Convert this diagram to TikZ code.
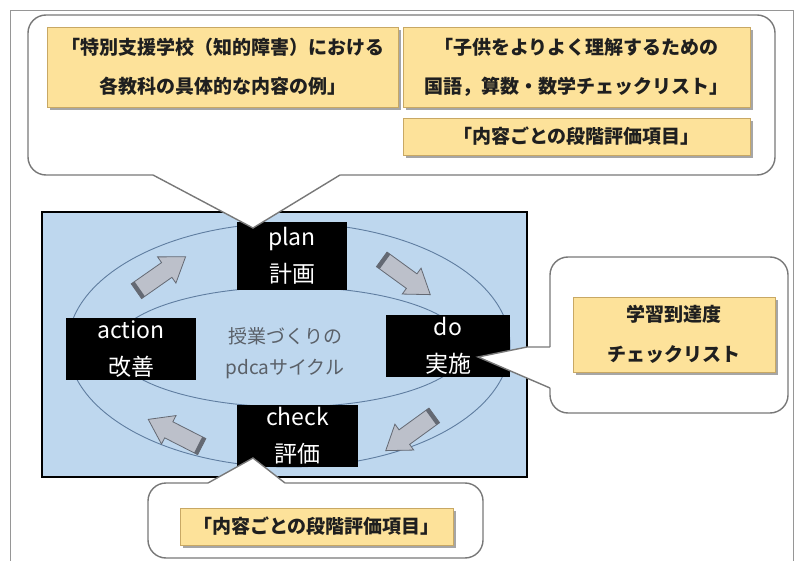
\documentclass[tikz,border=0pt]{standalone}
\usepackage{fontspec}
\newfontfamily\jp{Noto Sans CJK JP}
\usetikzlibrary{shadows}
\definecolor{ycol}{RGB}{253,226,154}
\definecolor{yedge}{RGB}{200,168,100}
\definecolor{bluebg}{RGB}{190,215,238}
\definecolor{ellc}{RGB}{95,125,160}
\definecolor{arrf}{RGB}{188,192,202}
\definecolor{arrd}{RGB}{100,105,115}
\definecolor{calc}{RGB}{120,120,120}
\definecolor{midtxt}{RGB}{90,96,104}
\definecolor{framec}{RGB}{150,150,150}
\tikzset{
 ybox/.style={draw=yedge, line width=0.8pt, fill=ycol,
   drop shadow={shadow xshift=3pt, shadow yshift=-3pt, fill=black, opacity=0.35},
   inner sep=0pt, font=\jp\bfseries\fontsize{19}{39}\selectfont, align=center, text=black!88},
 pdca/.style={fill=black, text=white, inner sep=0pt, font=\jp\fontsize{23}{37}\selectfont, align=center},
 callout/.style={draw=calc, line width=1.4pt, fill=white},
 calloutedge/.style={draw=calc, line width=1.4pt, line join=miter},
 cycarrow/.pic={
   \filldraw[fill=arrf, draw=arrd, line width=0.8pt] (-30,-9) -- (7,-9) -- (7,-16) -- (30,0) -- (7,16) -- (7,9) -- (-30,9) -- cycle;
   \fill[arrd] (-30,-9) rectangle (-26,9);
 },
}
\begin{document}
\begin{tikzpicture}[x=1pt,y=-1pt]
\useasboundingbox (0,0) rectangle (795,561);
\fill[white] (0,0) rectangle (795,561);
% frame
\draw[framec, line width=0.8pt] (10,561) -- (10,10) -- (793,10) -- (793,561);
% blue panel
\node[draw=black, line width=2.4pt, fill=bluebg, minimum width=485pt, minimum height=265pt, inner sep=0pt] (panel) at (284.5,344.5) {};
% ellipses
\draw[ellc, line width=0.9pt] (289,345) ellipse [x radius=221pt, y radius=122pt];
\draw[ellc, line width=0.9pt] (290,347) ellipse [x radius=176pt, y radius=60pt];
% cycle arrows
\pic[rotate=35] at (161,274) {cycarrow};
\pic[rotate=-36] at (406,277) {cycarrow};
\pic[rotate=-144] at (410,433) {cycarrow};
\pic[rotate=153] at (175,433) {cycarrow};
% pdca boxes
\node[pdca, minimum width=110pt, minimum height=68pt] (plan) at (292,256) {plan\\計画};
\node[pdca, minimum width=130pt, minimum height=62pt] (action) at (131,349) {action\\改善};
\node[pdca, minimum width=124pt, minimum height=62pt] (do) at (448,346) {do\\実施};
\node[pdca, minimum width=121pt, minimum height=62pt] (check) at (297.5,436) {check\\評価};
% centre text
\node[font=\jp\fontsize{19}{31}\selectfont, text=midtxt, align=center] (ctr) at (285,353) {授業づくりの\\pdcaサイクル};
% top callout
\coordinate (tA) at (153,175);
\coordinate (tTip) at (253,228);
\coordinate (tB) at (340,175);
\draw[callout, rounded corners=18pt] (28,15) rectangle (775,175);
\fill[white] (153,172) -- (340,172) -- (tB) -- (tTip) -- (tA) -- cycle;
\draw[calloutedge] (tA) -- (tTip) -- (tB);
% right callout
\coordinate (rA) at (550,347);
\coordinate (rM) at (527,347);
\coordinate (rTip) at (478,357);
\coordinate (rB) at (550,388);
\draw[callout, rounded corners=18pt] (550,257) rectangle (788,413);
\fill[white] (553,347) -- (rM) -- (rTip) -- (rB) -- (553,388) -- cycle;
\draw[calloutedge] (rA) -- (rM) -- (rTip) -- (rB);
% bottom callout
\coordinate (bA) at (208,483);
\coordinate (bTip) at (253,458);
\coordinate (bB) at (285,483);
\draw[callout, rounded corners=18pt] (148,483) rectangle (483,558);
\fill[white] (208,486) -- (bA) -- (bTip) -- (bB) -- (285,486) -- cycle;
\draw[calloutedge] (bA) -- (bTip) -- (bB);
% yellow boxes
\node[ybox, minimum width=351pt, minimum height=80pt] (boxA) at (222.5,67) {「特別支援学校（知的障害）における\\各教科の具体的な内容の例」};
\node[ybox, minimum width=347pt, minimum height=80pt] (boxB) at (576.5,67) {「子供をよりよく理解するための\\国語，算数・数学チェックリスト」};
\node[ybox, minimum width=347pt, minimum height=37pt] (boxC) at (576.5,136.5) {「内容ごとの段階評価項目」};
\node[ybox, minimum width=202pt, minimum height=75pt, font=\jp\bfseries\fontsize{19}{40}\selectfont] (boxD) at (674,334.5) {学習到達度\\チェックリスト};
\node[ybox, minimum width=273pt, minimum height=37pt] (boxE) at (316.5,526.5) {「内容ごとの段階評価項目」};
\end{tikzpicture}
\end{document}
